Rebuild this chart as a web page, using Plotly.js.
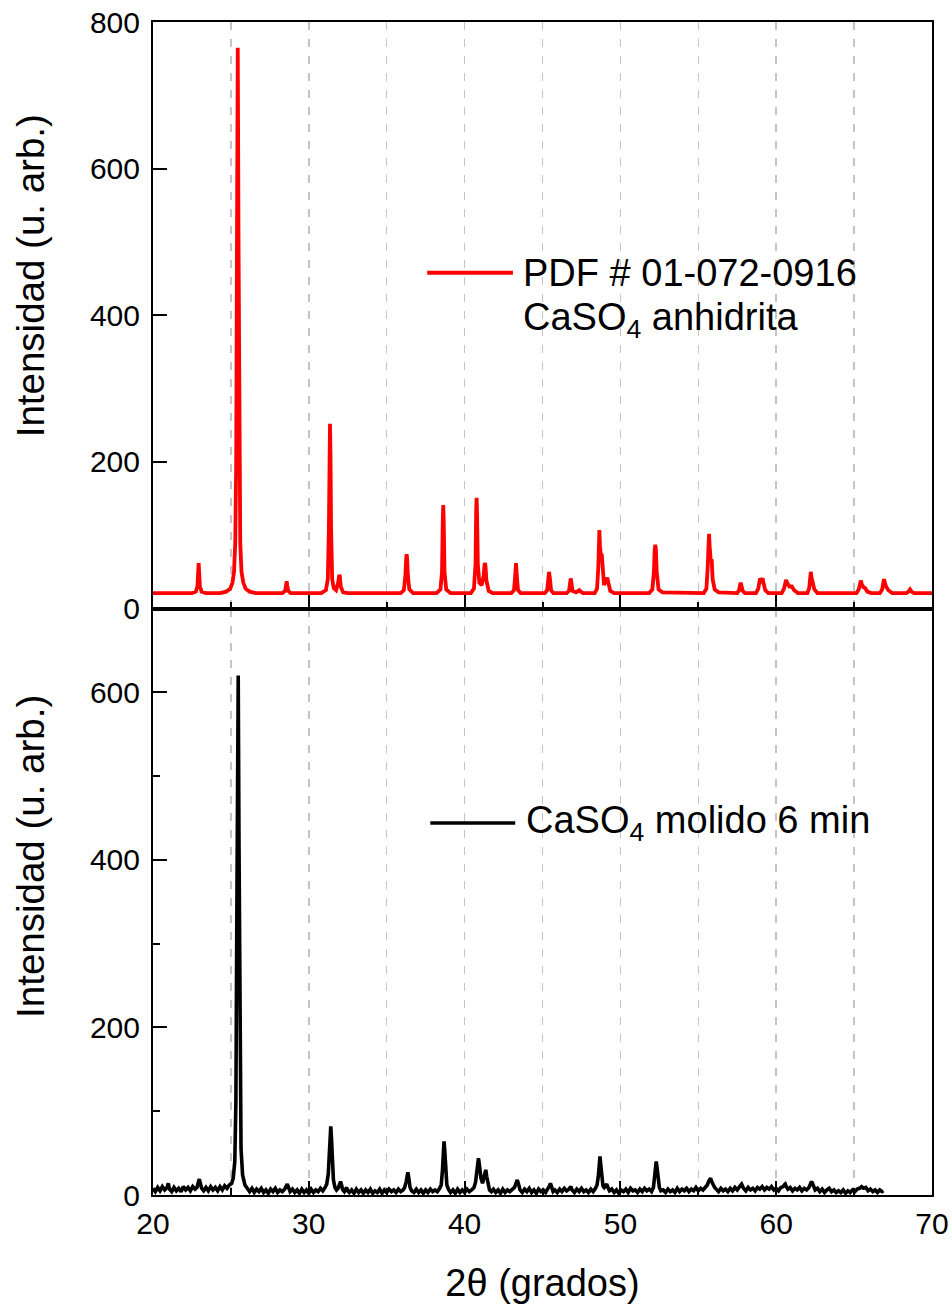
<!DOCTYPE html>
<html>
<head>
<meta charset="utf-8">
<script src="https://cdn.plot.ly/plotly-3.0.1.min.js"></script>
<style>html,body{margin:0;padding:0;background:#fff;}</style>
</head>
<body>
<div id="chart" style="width:952px;height:1312px;"></div>
<script>
// Reference pattern PDF # 01-072-0916 (CaSO4 anhidrita) - 2theta (grados)
const refTheta = [
  20.0, 22.5, 22.75, 22.85, 22.9, 22.93, 22.96, 23.01, 23.12, 23.4,
  24.3, 24.7, 24.95, 25.1, 25.2, 25.28, 25.34, 25.39, 25.44, 25.49, 25.54, 25.6, 25.68, 25.8, 25.95, 26.2, 26.6,
  28.3, 28.48, 28.54, 28.58, 28.62, 28.68, 28.85,
  30.8, 31.1, 31.22, 31.29, 31.33, 31.36, 31.39, 31.43, 31.5, 31.6, 31.75, 31.88, 31.93, 31.96, 31.99, 32.05, 32.2, 32.5,
  35.9, 36.1, 36.2, 36.25, 36.28, 36.31, 36.36, 36.45, 36.7,
  38.2, 38.45, 38.55, 38.6, 38.63, 38.66, 38.71, 38.82, 39.1,
  40.4, 40.6, 40.7, 40.74, 40.77, 40.8, 40.85, 40.95, 41.1, 41.22, 41.28, 41.31, 41.34, 41.4, 41.55, 41.8,
  43.0, 43.17, 43.25, 43.3, 43.35, 43.43, 43.6,
  45.15, 45.3, 45.37, 45.42, 45.47, 45.55, 45.7,
  46.55, 46.7, 46.77, 46.81, 46.85, 46.93, 47.15, 47.3, 47.36, 47.45, 47.6,
  48.35, 48.5, 48.58, 48.62, 48.65, 48.69, 48.75, 48.8, 48.86, 48.95, 49.08, 49.16, 49.23, 49.35, 49.6,
  51.85, 52.05, 52.15, 52.2, 52.24, 52.28, 52.33, 52.45, 52.7,
  55.35, 55.52, 55.6, 55.66, 55.69, 55.73, 55.8, 55.86, 55.92, 56.05, 56.3,
  57.5, 57.62, 57.68, 57.72, 57.77, 57.85, 58.0,
  58.7, 58.85, 58.92, 58.96, 59.03, 59.1, 59.13, 59.18, 59.3, 59.5,
  60.35, 60.5, 60.58, 60.63, 60.7, 60.85, 61.0, 61.15, 61.4,
  62.0, 62.12, 62.18, 62.22, 62.27, 62.33, 62.37, 62.45, 62.65,
  65.15, 65.3, 65.38, 65.43, 65.5, 65.6, 65.7, 65.85, 66.1,
  66.65, 66.8, 66.87, 66.92, 66.98, 67.05, 67.2, 67.45,
  68.35, 68.5, 68.59, 68.68, 68.85, 70.0
];
const refIntensity = [
  21, 21, 23, 30, 50, 62, 50, 30, 23, 21,
  21, 23, 27, 35, 50, 90, 200, 500, 765, 500, 200, 90, 50, 35, 27, 23, 21,
  21, 24, 31, 37, 31, 24, 21,
  21, 25, 40, 110, 215, 252, 215, 110, 40, 28, 25, 35, 44, 46, 44, 30, 22, 21,
  21, 25, 45, 68, 74, 68, 45, 26, 21,
  21, 26, 50, 120, 141, 120, 50, 26, 21,
  21, 27, 60, 130, 151, 130, 60, 35, 32, 45, 60, 62, 58, 38, 24, 21,
  21, 25, 45, 62, 45, 25, 21,
  21, 25, 42, 50, 42, 25, 21,
  21, 24, 36, 41, 36, 24, 22, 24, 25, 23, 21,
  21, 27, 55, 95, 107, 85, 72, 75, 48, 32, 38, 42, 35, 24, 21,
  21, 26, 50, 80, 87, 80, 50, 26, 22,
  21, 27, 55, 95, 102, 85, 65, 67, 40, 26, 22,
  21, 25, 32, 35, 31, 24, 21,
  21, 27, 38, 41, 38, 40, 41, 35, 25, 21,
  21, 27, 37, 39, 35, 30, 30, 25, 21,
  21, 28, 45, 50, 42, 35, 35, 26, 21,
  21, 26, 36, 38, 33, 29, 28, 23, 21,
  21, 26, 37, 40, 35, 30, 25, 21,
  21, 23, 26, 23, 21, 21
];

// Measured pattern: CaSO4 molido 6 min
const sampleTheta = [
  20.0, 20.15, 20.3, 20.45, 20.6, 20.75, 20.9, 20.98, 21.06, 21.2, 21.35, 21.5, 21.65, 21.8, 21.95, 22.1, 22.25, 22.4, 22.55, 22.7,
  22.82, 22.9, 22.97, 23.04, 23.12, 23.25,
  23.4, 23.55, 23.7, 23.85, 24.0, 24.15, 24.3, 24.45, 24.6, 24.75, 24.9, 25.05,
  25.15, 25.25, 25.32, 25.38, 25.43, 25.47, 25.52, 25.58, 25.65, 25.75, 25.9, 26.05,
  26.2, 26.35, 26.5, 26.65, 26.8, 26.95, 27.1, 27.25, 27.4, 27.55, 27.7, 27.85, 28.0, 28.15, 28.3, 28.45,
  28.55, 28.62, 28.7, 28.8,
  28.95, 29.1, 29.25, 29.4, 29.55, 29.7, 29.85, 30.0, 30.15, 30.3, 30.45, 30.6, 30.75, 30.9, 31.05,
  31.15, 31.25, 31.32, 31.37, 31.41, 31.45, 31.5, 31.58, 31.68, 31.78,
  31.88, 31.97, 32.04, 32.1, 32.18, 32.28, 32.38, 32.43, 32.5, 32.6,
  32.75, 32.9, 33.05, 33.2, 33.35, 33.5, 33.65, 33.8, 33.95, 34.1, 34.25, 34.4, 34.55, 34.7, 34.85, 35.0, 35.15, 35.3, 35.45, 35.6, 35.75, 35.9, 36.05, 36.15,
  36.25, 36.31, 36.36, 36.42, 36.5, 36.6,
  36.75, 36.9, 37.05, 37.2, 37.35, 37.5, 37.65, 37.8, 37.95, 38.1, 38.25, 38.4,
  38.5, 38.58, 38.64, 38.68, 38.72, 38.78, 38.86, 38.96,
  39.1, 39.25, 39.4, 39.55, 39.7, 39.85, 40.0, 40.15, 40.3, 40.45, 40.6,
  40.7, 40.78, 40.84, 40.89, 40.95, 41.05, 41.15, 41.25, 41.32, 41.36, 41.42, 41.5, 41.6, 41.72,
  41.85, 42.0, 42.15, 42.3, 42.45, 42.6, 42.75, 42.9, 43.05, 43.2,
  43.3, 43.38, 43.46, 43.56,
  43.7, 43.85, 44.0, 44.15, 44.3, 44.45, 44.6, 44.75, 44.9, 45.05, 45.2, 45.35,
  45.45, 45.51, 45.58, 45.68,
  45.8, 45.95, 46.1, 46.25, 46.4, 46.55, 46.7, 46.82, 46.9, 47.05, 47.2, 47.35, 47.5, 47.65, 47.8, 47.95, 48.1, 48.25, 48.4, 48.5,
  48.58, 48.64, 48.69, 48.74, 48.8, 48.88, 48.96, 49.05, 49.12, 49.2, 49.3,
  49.45, 49.6, 49.75, 49.9, 50.05, 50.2, 50.35, 50.5, 50.65, 50.8, 50.95, 51.1, 51.25, 51.4, 51.55, 51.7, 51.85, 52.0, 52.12,
  52.2, 52.26, 52.3, 52.35, 52.42, 52.5, 52.6,
  52.75, 52.9, 53.05, 53.2, 53.35, 53.5, 53.65, 53.8, 53.95, 54.1, 54.25, 54.4, 54.55, 54.7, 54.85, 55.0, 55.15, 55.3, 55.45, 55.58,
  55.66, 55.73, 55.79, 55.86, 55.95, 56.05, 56.15,
  56.3, 56.45, 56.6, 56.75, 56.9, 57.05, 57.2, 57.35, 57.5, 57.65, 57.78, 57.9, 58.05, 58.2, 58.35, 58.5, 58.65, 58.8, 58.95, 59.1, 59.25, 59.4, 59.55, 59.7, 59.85, 60.0, 60.15, 60.3, 60.45,
  60.52, 60.58, 60.65, 60.75,
  60.9, 61.05, 61.2, 61.35, 61.5, 61.65, 61.8, 61.95, 62.1,
  62.2, 62.27, 62.33, 62.4, 62.5,
  62.65, 62.8, 62.95, 63.1, 63.25, 63.4, 63.55, 63.7, 63.85, 64.0, 64.15, 64.3, 64.45, 64.6, 64.75, 64.9, 65.05, 65.2, 65.35, 65.48, 65.6, 65.75, 65.9, 66.05, 66.2, 66.35, 66.5, 66.65, 66.8, 66.88
];
const sampleIntensity = [
  8, 4, 9, 5, 10, 6, 9, 14, 7, 4, 9, 5, 8, 4, 10, 6, 9, 5, 10, 7,
  9, 15, 19, 14, 8, 5,
  9, 5, 10, 6, 9, 5, 10, 6, 11, 8, 12, 14,
  20, 40, 110, 330, 580, 620, 420, 150, 55, 24, 12, 8,
  4, 8, 3, 7, 4, 8, 3, 6, 2, 7, 4, 8, 3, 6, 4, 7,
  10, 13, 9, 4,
  7, 3, 6, 2, 7, 3, 6, 2, 7, 3, 6, 4, 8, 5, 9,
  13, 25, 55, 78, 82, 70, 40, 18, 9, 6,
  8, 13, 16, 12, 6, 4, 7, 9, 5, 3,
  6, 2, 7, 3, 6, 2, 6, 3, 7, 2, 5, 3, 7, 2, 6, 3, 7, 4, 6, 3, 7, 4, 6, 9,
  16, 25, 27, 20, 9, 5,
  3, 7, 3, 6, 2, 6, 3, 7, 4, 6, 4, 8,
  12, 30, 55, 64, 55, 28, 12, 7,
  3, 6, 2, 7, 3, 6, 3, 7, 4, 6, 9,
  15, 30, 42, 44, 36, 20, 14, 22, 29, 30, 22, 12, 6, 4,
  7, 3, 6, 2, 7, 3, 6, 4, 7, 9,
  14, 18, 13, 6,
  3, 7, 4, 8, 3, 6, 2, 7, 4, 6, 3, 7,
  11, 14, 9, 4,
  6, 3, 7, 4, 8, 5, 7, 10, 6, 3, 7, 4, 8, 4, 6, 3, 7, 4, 8, 12,
  22, 38, 46, 36, 20, 11, 9, 11, 13, 9, 5,
  7, 3, 6, 2, 6, 4, 7, 3, 8, 5, 6, 3, 7, 4, 8, 5, 7, 4, 9,
  20, 34, 40, 33, 18, 9, 5,
  6, 3, 7, 4, 6, 3, 8, 4, 7, 5, 8, 4, 7, 5, 9, 5, 8, 6, 9, 12,
  16, 19, 20, 16, 12, 9, 7,
  4, 8, 5, 7, 4, 8, 5, 9, 6, 10, 13, 8, 5, 9, 6, 8, 5, 9, 7, 10, 6, 9, 7, 10, 6, 8, 5, 9, 10,
  12, 13, 10, 7,
  9, 5, 8, 6, 9, 5, 8, 6, 9,
  13, 16, 14, 9, 6,
  8, 4, 7, 3, 6, 8, 4, 6, 3, 5, 3, 6, 2, 5, 3, 6, 4, 7, 8, 10, 8, 9, 5, 7, 4, 6, 3, 6, 4, 5
];

const refLabel = ['PDF # 01-072-0916', 'CaSO<sub>4</sub> anhidrita'];
const sampleLabel = 'CaSO<sub>4</sub> molido 6 min';
const yTitle = 'Intensidad (u. arb.)';
const xTitle = '2\u03B8 (grados)';

const FONT = 'Liberation Sans, Arial, Helvetica, sans-serif';
const gridStyle = {showgrid: true, gridcolor: '#c4c4c4', gridwidth: 1.5, griddash: '8px,9px'};

const traces = [
  {x: refTheta, y: refIntensity, xaxis: 'x2', yaxis: 'y2', type: 'scatter', mode: 'lines',
   line: {color: '#ff0000', width: 3.8}, name: 'PDF # 01-072-0916', hoverinfo: 'x+y'},
  {x: sampleTheta, y: sampleIntensity, xaxis: 'x', yaxis: 'y', type: 'scatter', mode: 'lines',
   line: {color: '#000000', width: 3.6}, name: 'CaSO4 molido 6 min', hoverinfo: 'x+y'}
];

function xAxisBase() {
  return Object.assign({
    range: [20, 70], tick0: 20, dtick: 10, ticks: 'inside', ticklen: 14, tickwidth: 2, tickcolor: '#000',
    showline: true, linewidth: 2, linecolor: '#000', mirror: true, zeroline: false,
    tickfont: {size: 30, family: FONT, color: '#000'},
    minor: Object.assign({tick0: 20, dtick: 5, ticks: 'inside', ticklen: 7, tickwidth: 2, tickcolor: '#000'}, gridStyle)
  }, gridStyle);
}

const xaxis = xAxisBase();
xaxis.domain = [0, 1];
xaxis.anchor = 'y';
xaxis.ticklabelstandoff = 1;
xaxis.title = {text: xTitle, font: {size: 38, family: FONT, color: '#000'}, standoff: 30};

const xaxis2 = xAxisBase();
xaxis2.domain = [0, 1];
xaxis2.anchor = 'y2';
xaxis2.matches = 'x';
xaxis2.showticklabels = false;

const yBase = {
  tick0: 0, dtick: 200, ticks: 'inside', ticklen: 14, tickwidth: 2, tickcolor: '#000',
  showline: true, linewidth: 2, linecolor: '#000', mirror: true, zeroline: false, showgrid: false,
  tickfont: {size: 30, family: FONT, color: '#000'}, ticklabelstandoff: 5
};
const yaxis = Object.assign({}, yBase, {
  domain: [0, 0.5], anchor: 'x', range: [0, 700],
  minor: {tick0: 0, dtick: 100, ticks: 'inside', ticklen: 7, tickwidth: 2, tickcolor: '#000', showgrid: false}
});
const yaxis2 = Object.assign({}, yBase, {domain: [0.5, 1], anchor: 'x2', range: [0, 800]});

const txt = (size) => ({size: size, family: FONT, color: '#000'});

const layout = {
  width: 952, height: 1312,
  margin: {l: 153, r: 20, t: 22, b: 117, pad: 0},
  paper_bgcolor: '#fff', plot_bgcolor: '#fff',
  showlegend: false,
  font: {family: FONT, color: '#000'},
  xaxis: xaxis, xaxis2: xaxis2, yaxis: yaxis, yaxis2: yaxis2,
  shapes: [
    {type: 'line', xref: 'x2', yref: 'y2', x0: 37.6, x1: 43.1, y0: 458, y1: 458, line: {color: '#ff0000', width: 3.8}},
    {type: 'line', xref: 'x', yref: 'y', x0: 37.8, x1: 43.25, y0: 444, y1: 444, line: {color: '#000', width: 3.6}}
  ],
  annotations: [
    {xref: 'x2', yref: 'y2', x: 43.6, y: 458, xanchor: 'left', yanchor: 'middle', showarrow: false, text: refLabel[0], font: txt(38)},
    {xref: 'x2', yref: 'y2', x: 43.6, y: 393, xanchor: 'left', yanchor: 'middle', showarrow: false, text: refLabel[1], font: txt(38)},
    {xref: 'x', yref: 'y', x: 43.8, y: 444, xanchor: 'left', yanchor: 'middle', showarrow: false, text: sampleLabel, font: txt(38)},
    {xref: 'paper', yref: 'paper', x: -0.158, y: 0.784, xanchor: 'center', yanchor: 'middle', textangle: -90, showarrow: false, text: yTitle, font: txt(38.5)},
    {xref: 'paper', yref: 'paper', x: -0.158, y: 0.289, xanchor: 'center', yanchor: 'middle', textangle: -90, showarrow: false, text: yTitle, font: txt(38.5)}
  ]
};

Plotly.newPlot('chart', traces, layout, {displayModeBar: false, responsive: false, staticPlot: true});
</script>
</body>
</html>
